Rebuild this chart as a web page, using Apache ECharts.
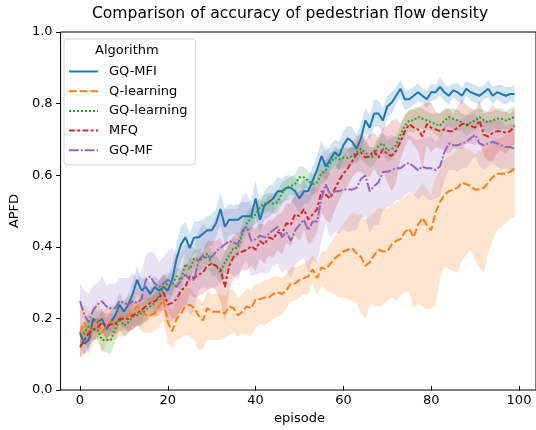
<!DOCTYPE html>
<html>
<head>
<meta charset="UTF-8">
<script src="https://cdn.jsdelivr.net/npm/echarts@6/dist/echarts.min.js"></script>
<style>
    html, body { margin: 0; padding: 0; background: #fff; }
    #chart { width: 536px; height: 430px; }
</style>
</head>
<body>
<div id="chart"></div>
<script>
var names = ['GQ-MFI', 'Q-learning', 'GQ-learning', 'MFQ', 'GQ-MF'];
var colors = ['#1f77b4', '#ff7f0e', '#2ca02c', '#d62728', '#9467bd'];
var xTicks = [0, 20, 40, 60, 80, 100];
var yTicks = [0, 0.2, 0.4, 0.6, 0.8, 1.0];

// mean curves, one value per episode 0..99
var gqMfi = [
    .15, .12, .13, .19, .18, .19, .16, .18, .20, .23,
    .21, .23, .26, .30, .27, .28, .26, .28, .27, .28,
    .27, .30, .36, .40, .42, .39, .42, .42, .43, .44,
    .44, .46, .50, .45, .47, .47, .47, .48, .48, .48,
    .53, .47, .51, .52, .53, .55, .55, .56, .56, .55,
    .53, .55, .55, .58, .61, .65, .62, .64, .66, .65,
    .68, .70, .69, .67, .70, .75, .73, .77, .77, .75,
    .79, .80, .82, .84, .81, .81, .82, .83, .82, .81,
    .83, .83, .845, .83, .82, .835, .83, .82, .84, .83,
    .825, .82, .83, .84, .82, .83, .825, .82, .825, .825
];
var qLearning = [
    .15, .18, .15, .17, .19, .15, .17, .18, .18, .19,
    .19, .20, .21, .225, .215, .20, .20, .205, .225, .245,
    .18, .155, .19, .205, .225, .23, .22, .20, .185, .22,
    .21, .21, .21, .205, .225, .22, .20, .21, .225, .22,
    .245, .245, .25, .25, .26, .265, .26, .27, .29, .29,
    .30, .305, .31, .33, .305, .335, .33, .345, .36, .37,
    .38, .385, .39, .375, .365, .34, .35, .37, .385, .38,
    .38, .40, .41, .415, .435, .445, .42, .455, .475, .455,
    .44, .49, .52, .54, .55, .555, .56, .575, .57, .565,
    .555, .555, .56, .575, .59, .60, .60, .60, .605, .615
];
var gqLearning = [
    .14, .15, .17, .16, .16, .13, .13, .13, .16, .19,
    .17, .18, .195, .20, .205, .215, .225, .235, .255, .28,
    .29, .285, .31, .30, .345, .33, .36, .355, .36, .375,
    .345, .34, .32, .35, .37, .39, .39, .43, .46, .475,
    .485, .505, .515, .52, .515, .52, .545, .56, .565, .57,
    .59, .59, .58, .57, .575, .60, .61, .63, .645, .64,
    .645, .645, .65, .66, .67, .66, .645, .65, .68, .685,
    .665, .67, .68, .71, .735, .75, .75, .76, .755, .75,
    .745, .74, .735, .75, .76, .755, .75, .745, .735, .745,
    .75, .76, .75, .745, .75, .755, .755, .75, .755, .76
];
var mfq = [
    .11, .13, .15, .16, .165, .18, .17, .175, .175, .19,
    .19, .19, .20, .205, .215, .225, .235, .24, .25, .265,
    .23, .235, .245, .27, .28, .31, .305, .315, .32, .34,
    .345, .34, .33, .28, .34, .365, .375, .38, .385, .395,
    .385, .41, .40, .42, .415, .435, .43, .46, .455, .485,
    .48, .50, .47, .485, .50, .55, .54, .53, .555, .58,
    .60, .615, .635, .655, .66, .645, .65, .665, .645, .67,
    .655, .65, .665, .69, .72, .74, .73, .725, .705, .74,
    .73, .725, .72, .725, .72, .72, .73, .74, .74, .735,
    .73, .75, .71, .705, .715, .72, .72, .715, .72, .735
];
var gqMf = [
    .24, .20, .18, .215, .23, .24, .225, .22, .22, .24,
    .235, .23, .24, .235, .245, .30, .31, .29, .28, .29,
    .30, .29, .28, .30, .315, .30, .30, .355, .37, .36,
    .365, .38, .39, .40, .41, .405, .40, .44, .45, .41,
    .415, .425, .42, .43, .44, .45, .42, .435, .41, .44,
    .455, .47, .44, .465, .465, .53, .57, .54, .55, .55,
    .555, .555, .555, .56, .585, .595, .55, .565, .575, .605,
    .605, .61, .615, .615, .625, .63, .62, .61, .62, .615,
    .615, .61, .62, .66, .685, .68, .68, .685, .69, .70,
    .71, .685, .68, .685, .69, .685, .68, .675, .675, .67
];

// half widths of the shaded bands
var gqMfiSpread = [
    .04, .03, .03, .035, .03, .03, .03, .03, .03, .035,
    .03, .03, .035, .04, .03, .03, .03, .03, .03, .035,
    .035, .04, .045, .05, .045, .04, .045, .045, .04, .04,
    .045, .04, .045, .05, .045, .04, .045, .04, .04, .045,
    .05, .04, .04, .045, .04, .04, .035, .035, .035, .04,
    .04, .035, .035, .04, .04, .045, .04, .04, .035, .04,
    .04, .035, .04, .04, .04, .035, .035, .04, .035, .035,
    .03, .03, .025, .025, .03, .025, .025, .025, .02, .025,
    .025, .02, .025, .025, .025, .02, .025, .025, .02, .025,
    .025, .025, .02, .025, .025, .02, .025, .025, .02, .025
];
var qLow = [
    .07, .05, .06, .05, .05, .06, .05, .05, .05, .05,
    .05, .05, .05, .05, .06, .05, .05, .05, .06, .06,
    .06, .05, .06, .07, .08, .09, .09, .10, .08, .09,
    .08, .08, .08, .07, .08, .07, .06, .06, .08, .08,
    .08, .07, .08, .07, .07, .07, .06, .05, .05, .05,
    .05, .045, .05, .04, .05, .05, .06, .08, .10, .12,
    .13, .14, .15, .14, .16, .15, .12, .14, .16, .15,
    .14, .15, .17, .16, .17, .18, .20, .22, .25, .24,
    .22, .26, .22, .20, .22, .23, .24, .22, .20, .18,
    .20, .22, .24, .20, .18, .16, .15, .14, .13, .14
];
var qHigh = [
    .06, .05, .06, .05, .05, .06, .05, .05, .05, .05,
    .05, .05, .05, .05, .05, .05, .05, .05, .05, .05,
    .05, .06, .05, .05, .05, .05, .04, .05, .05, .05,
    .05, .05, .05, .05, .05, .05, .05, .05, .05, .05,
    .045, .045, .05, .05, .05, .045, .045, .045, .045, .045,
    .04, .04, .045, .04, .045, .045, .05, .06, .06, .07,
    .08, .09, .10, .11, .12, .13, .13, .12, .12, .12,
    .12, .11, .11, .11, .10, .10, .12, .10, .10, .10,
    .10, .10, .09, .10, .10, .10, .11, .10, .10, .10,
    .10, .11, .11, .10, .10, .10, .10, .11, .11, .12
];
var gqLearningSpread = [
    .03, .03, .035, .03, .03, .03, .035, .04, .035, .03,
    .03, .03, .025, .03, .03, .03, .025, .025, .03, .03,
    .03, .03, .025, .03, .03, .03, .025, .03, .03, .03,
    .035, .03, .03, .03, .03, .03, .025, .03, .03, .03,
    .025, .03, .025, .025, .03, .03, .03, .025, .025, .03,
    .03, .03, .025, .03, .03, .03, .03, .025, .03, .03,
    .03, .025, .025, .03, .03, .03, .03, .025, .03, .03,
    .03, .03, .025, .025, .03, .03, .035, .03, .03, .025,
    .025, .03, .035, .03, .025, .03, .03, .025, .03, .03,
    .03, .025, .03, .03, .025, .03, .03, .025, .03, .03
];
var mfqSpread = [
    .03, .04, .035, .03, .03, .03, .035, .03, .03, .035,
    .03, .035, .04, .035, .04, .045, .04, .045, .05, .05,
    .06, .05, .05, .055, .06, .05, .055, .06, .06, .07,
    .065, .07, .09, .10, .07, .06, .06, .05, .06, .055,
    .06, .05, .055, .05, .055, .05, .06, .055, .06, .06,
    .07, .06, .07, .075, .065, .06, .07, .07, .06, .055,
    .05, .05, .045, .05, .055, .05, .06, .05, .055, .06,
    .08, .10, .09, .05, .045, .04, .05, .06, .09, .06,
    .07, .05, .05, .06, .065, .05, .06, .07, .055, .05,
    .05, .055, .06, .07, .08, .06, .055, .06, .05, .05
];
var gqMfSpread = [
    .05, .07, .08, .07, .06, .07, .06, .07, .07, .065,
    .07, .075, .08, .065, .08, .07, .07, .085, .07, .075,
    .08, .10, .09, .08, .085, .10, .09, .085, .09, .085,
    .09, .10, .095, .10, .09, .095, .10, .10, .095, .10,
    .10, .105, .10, .11, .10, .105, .10, .105, .11, .10,
    .10, .11, .12, .11, .115, .12, .11, .12, .115, .12,
    .11, .12, .115, .12, .11, .115, .12, .11, .12, .11,
    .10, .10, .09, .09, .085, .08, .08, .085, .08, .085,
    .09, .08, .085, .08, .075, .07, .075, .07, .075, .065,
    .06, .065, .07, .065, .06, .065, .07, .06, .065, .07
];

var means = [gqMfi, qLearning, gqLearning, mfq, gqMf];
var lows = [gqMfiSpread, qLow, gqLearningSpread, mfqSpread, gqMfSpread];
var highs = [gqMfiSpread, qHigh, gqLearningSpread, mfqSpread, gqMfSpread];
// seaborn dash patterns scaled to a 2px line
var dashes = ['solid', [7.8, 2.9], [2, 2], [5.8, 2.4, 2.9, 2.4], [9.8, 2, 2, 2]];

var font = 'DejaVu Sans';
var axisText = { fontFamily: font, fontSize: 13, color: '#000' };

function bandItem(k) {
    return function (params, api) {
        var m = means[k], lo = lows[k], hi = highs[k];
        var pts = [];
        for (var i = 0; i < m.length; i++) pts.push(api.coord([i, m[i] + hi[i]]));
        for (var j = m.length - 1; j >= 0; j--) pts.push(api.coord([j, m[j] - lo[j]]));
        return {
            type: 'polygon',
            shape: { points: pts },
            style: { fill: colors[k], opacity: 0.2 }
        };
    };
}

var series = [];
means.forEach(function (m, k) {
    series.push({
        type: 'custom',
        silent: true,
        clip: false,
        z: 1,
        data: [[0, 0]],
        renderItem: bandItem(k)
    });
});
means.forEach(function (m, k) {
    series.push({
        type: 'line',
        name: names[k],
        z: 2,
        symbol: 'none',
        showSymbol: false,
        silent: true,
        data: m.map(function (v, i) { return [i, v]; }),
        lineStyle: { color: colors[k], width: 2, type: dashes[k] },
        itemStyle: { color: colors[k] },
        emphasis: { disabled: true }
    });
});

var chart = echarts.init(document.getElementById('chart'));
chart.setOption({
    animation: false,
    backgroundColor: '#fff',
    title: {
        text: 'Comparison of accuracy of pedestrian flow density',
        left: 290,
        textAlign: 'center',
        top: 6,
        padding: 0,
        textStyle: { fontFamily: font, fontSize: 15.6, fontWeight: 'normal', color: '#000' }
    },
    legend: {
        data: names,
        orient: 'vertical',
        left: 64,
        top: 39,
        padding: [26, 8, 8, 4],
        itemWidth: 29,
        itemHeight: 13,
        itemGap: 6.7,
        selectedMode: false,
        backgroundColor: 'rgba(255,255,255,0.8)',
        borderColor: '#d6d6d6',
        borderWidth: 1,
        borderRadius: 3,
        itemStyle: { opacity: 0 },
        textStyle: { fontFamily: font, fontSize: 13, color: '#000', padding: [0, 0, 0, 6] }
    },
    graphic: [{
        type: 'text',
        z: 100,
        left: 95,
        top: 44,
        style: { text: 'Algorithm', font: '13px "DejaVu Sans"', fill: '#000' }
    }],
    grid: [
        // data area: x from 0 to 100
        { left: 80, right: 17, top: 32, bottom: 40 },
        // full frame with matplotlib margins, right spine is off canvas
        { left: 58, right: -3, top: 32, bottom: 40, show: true, borderColor: '#000', borderWidth: 1 }
    ],
    xAxis: [{
        gridIndex: 0,
        type: 'value',
        min: xTicks[0],
        max: xTicks[xTicks.length - 1],
        interval: 20,
        name: 'episode',
        nameLocation: 'middle',
        nameGap: 20,
        nameTextStyle: axisText,
        axisLine: { show: false },
        splitLine: { show: false },
        axisTick: { show: true, length: 4.5, lineStyle: { color: '#000' } },
        axisLabel: Object.assign({ margin: 8 }, axisText)
    }, {
        gridIndex: 1,
        type: 'value',
        show: false
    }],
    yAxis: [{
        gridIndex: 0,
        type: 'value',
        min: 0,
        max: 1,
        show: false
    }, {
        gridIndex: 1,
        type: 'value',
        min: yTicks[0],
        max: yTicks[yTicks.length - 1],
        interval: 0.2,
        name: 'APFD',
        nameLocation: 'middle',
        nameGap: 38,
        nameTextStyle: axisText,
        axisLine: { show: false },
        splitLine: { show: false },
        axisTick: { show: true, length: 4.5, lineStyle: { color: '#000' } },
        axisLabel: Object.assign({
            margin: 8,
            formatter: function (v) { return v.toFixed(1); }
        }, axisText)
    }],
    series: series
});
</script>
</body>
</html>
